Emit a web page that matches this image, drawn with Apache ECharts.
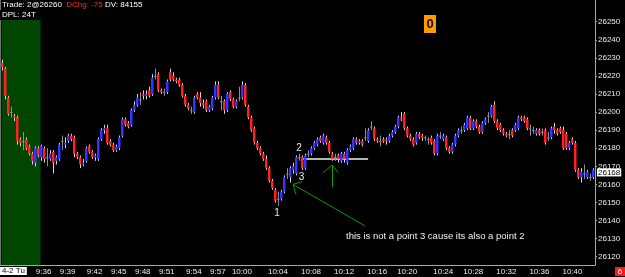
<!DOCTYPE html>
<html><head><meta charset="utf-8">
<script src="https://cdn.jsdelivr.net/npm/echarts@6/dist/echarts.min.js"></script>
<style>html,body{margin:0;padding:0;background:#000;}#c{width:625px;height:277px;}</style>
</head><body><div id="c"></div>
<script>
const opens = [26227,26224,26208,26200,26198,26197,26185,26184,26185,26181,
26177,26172,26180,26175,26180,26175,26174,26178,26173,26174,
26184,26182,26184,26187,26186,26177,26175,26171,26173,26181,
26178,26175,26174,26185,26190,26191,26184,26182,26179,26180,
26187,26196,26194,26193,26201,26204,26207,26210,26209,26212,
26210,26220,26221,26212,26211,26211,26222,26220,26218,26218,
26215,26209,26204,26201,26200,26210,26208,26205,26206,26201,
26202,26208,26215,26206,26206,26201,26211,26207,26203,26208,
26208,26215,26203,26197,26191,26183,26180,26177,26174,26169,
26162,26157,26152,26152,26156,26166,26164,26168,26166,26175,
26175,26169,26177,26177,26180,26182,26186,26183,26186,26183,
26177,26175,26176,26173,26177,26172,26179,26180,26185,26183,
26184,26186,26184,26192,26191,26185,26184,26185,26185,26184,
26187,26189,26192,26197,26199,26191,26187,26185,26183,26188,
26187,26186,26185,26186,26184,26177,26187,26185,26186,26180,
26178,26182,26187,26190,26190,26191,26197,26191,26195,26192,
26189,26194,26198,26198,26204,26195,26193,26190,26188,26188,
26190,26190,26191,26197,26197,26196,26191,26190,26188,26190,
26189,26190,26186,26186,26192,26190,26191,26190,26188,26180,
26185,26183,26168,26164,26166,26164,26164,26164];
const closes = [26225,26209,26199,26200,26197,26184,26183,26184,26180,26177,
26173,26180,26176,26181,26174,26175,26177,26172,26175,26182,
26184,26183,26187,26185,26177,26175,26171,26172,26180,26178,
26175,26176,26185,26190,26191,26183,26182,26179,26181,26186,
26196,26193,26192,26201,26204,26208,26207,26209,26210,26209,
26219,26220,26212,26211,26211,26217,26218,26218,26217,26215,
26209,26204,26202,26201,26208,26208,26205,26204,26201,26203,
26208,26215,26208,26206,26201,26210,26207,26203,26206,26208,
26215,26204,26197,26190,26183,26180,26177,26174,26169,26162,
26158,26151,26152,26156,26164,26166,26169,26170,26175,26175,
26169,26176,26177,26180,26183,26185,26184,26187,26183,26178,
26174,26175,26174,26177,26174,26179,26181,26185,26183,26184,
26182,26186,26190,26192,26185,26184,26184,26184,26184,26187,
26189,26192,26197,26196,26191,26187,26185,26182,26188,26186,
26186,26186,26185,26183,26177,26187,26187,26187,26180,26178,
26182,26187,26190,26190,26193,26197,26191,26195,26192,26189,
26194,26196,26198,26203,26195,26191,26190,26188,26187,26188,
26187,26193,26197,26196,26195,26191,26191,26190,26190,26188,
26189,26183,26186,26191,26190,26188,26189,26180,26180,26183,
26183,26168,26164,26167,26166,26167,26164,26168];
const lows = [26223,26207,26198,26197,26195,26182,26181,26179,26179,26176,
26171,26170,26175,26173,26172,26170,26173,26166,26171,26173,
26179,26180,26183,26184,26175,26174,26169,26170,26172,26177,
26174,26173,26173,26184,26188,26182,26181,26178,26178,26179,
26186,26192,26191,26192,26200,26203,26204,26207,26207,26208,
26209,26218,26211,26210,26209,26210,26217,26217,26216,26214,
26208,26203,26201,26199,26199,26207,26203,26202,26200,26200,
26201,26207,26207,26201,26199,26200,26206,26202,26202,26206,
26207,26203,26196,26189,26182,26179,26176,26173,26168,26161,
26157,26150,26148,26151,26155,26163,26161,26166,26165,26173,
26168,26168,26175,26176,26179,26181,26183,26182,26182,26177,
26173,26173,26172,26172,26172,26171,26178,26179,26182,26182,
26181,26184,26183,26190,26184,26183,26181,26183,26182,26183,
26186,26188,26191,26195,26190,26186,26184,26181,26182,26185,
26184,26184,26182,26182,26176,26176,26185,26184,26179,26177,
26177,26181,26186,26188,26189,26190,26190,26190,26191,26188,
26188,26193,26194,26197,26194,26190,26189,26187,26186,26185,
26186,26189,26190,26195,26194,26190,26187,26188,26187,26187,
26187,26182,26184,26185,26188,26187,26188,26179,26179,26179,
26182,26167,26163,26161,26163,26163,26162,26163];
const highs = [26229,26225,26209,26203,26199,26198,26186,26189,26186,26182,
26178,26181,26181,26182,26181,26180,26179,26179,26176,26183,
26187,26186,26188,26188,26187,26178,26176,26174,26181,26182,
26179,26177,26186,26191,26193,26193,26185,26183,26182,26187,
26197,26197,26195,26202,26206,26210,26211,26212,26212,26214,
26221,26224,26222,26213,26213,26218,26224,26222,26219,26219,
26216,26210,26205,26203,26209,26211,26211,26207,26207,26204,
26209,26217,26217,26209,26207,26211,26212,26208,26207,26214,
26217,26216,26204,26198,26192,26184,26181,26178,26176,26170,
26163,26158,26156,26157,26165,26169,26170,26172,26176,26177,
26176,26177,26179,26181,26184,26186,26187,26188,26187,26184,
26178,26177,26177,26178,26178,26180,26182,26186,26186,26185,
26185,26191,26191,26195,26192,26186,26187,26186,26186,26188,
26190,26193,26198,26200,26200,26192,26188,26186,26189,26189,
26188,26187,26186,26187,26185,26188,26189,26188,26187,26181,
26183,26188,26191,26192,26194,26198,26198,26196,26196,26193,
26195,26197,26200,26204,26206,26196,26194,26191,26189,26190,
26191,26194,26198,26198,26198,26197,26193,26192,26191,26191,
26191,26191,26189,26192,26194,26191,26192,26192,26189,26184,
26186,26184,26169,26169,26171,26168,26166,26169];

const timeLabels = ['9:36','9:39','9:42','9:45','9:48','9:51','9:54','9:57','10:00','10:04','10:08','10:12','10:16','10:20','10:24','10:28','10:32','10:36','10:40'];
const timeLabelBars = [14,22,31,39,47,55,64,72,80,92,103,114,125,135,147,157,168,179,190];
const priceTicks = [26120,26130,26140,26150,26160,26170,26180,26190,26200,26210,26220,26230,26240,26250];
const lastPrice = 26168;
const sessionBars = [0, 13];

const FONT = 'Liberation Sans, Arial, sans-serif';
const Y_MIN = 26115.4, Y_MAX = 26262;
const UP = '#3434ff', DOWN = '#ff2222', FLAT = '#8e8e8e', WICK = '#d4d4d4';

const categories = opens.map((_, i) => {
  const k = timeLabelBars.indexOf(i);
  return k >= 0 ? timeLabels[k] : '';
});
const candleData = opens.map((o, i) => [i, o, closes[i], lows[i], highs[i]]);

function renderCandle(params, api) {
  const i = api.value(0);
  const o = api.value(1), c = api.value(2), lo = api.value(3), hi = api.value(4);
  const pO = api.coord([i, o]), pC = api.coord([i, c]);
  const pL = api.coord([i, lo]), pH = api.coord([i, hi]);
  const xi = Math.round(pO[0]);
  const fill = c > o ? UP : (c < o ? DOWN : FLAT);
  const top = Math.min(pO[1], pC[1]);
  const h = Math.max(Math.abs(pO[1] - pC[1]), 1);
  return {
    type: 'group',
    children: [
      { type: 'line', shape: { x1: xi + 0.5, y1: pH[1], x2: xi + 0.5, y2: pL[1] },
        style: { stroke: c === o ? FLAT : WICK, lineWidth: 1 } },
      { type: 'rect', shape: { x: xi - 1, y: top, width: 2.5, height: h },
        style: { fill: fill } }
    ]
  };
}

const chart = echarts.init(document.getElementById('c'), null, { renderer: 'canvas', width: 625, height: 277 });

const GREEN = '#0a9a0a';
const seg = (a, b, color, width) => [
  { coord: a, lineStyle: { color: color, width: width, type: 'solid' } },
  { coord: b }
];

chart.setOption({
  backgroundColor: '#000',
  animation: false,
  grid: { left: 0, right: 30, top: 0, bottom: 12, containLabel: false, outerBoundsMode: 'none' },
  xAxis: {
    type: 'category', data: categories, boundaryGap: true,
    axisLine: { show: true, onZero: false, lineStyle: { color: '#a8a8a8', width: 1 } },
    axisTick: { show: false },
    axisLabel: { interval: 0, color: '#ececec', fontSize: 8, fontFamily: FONT, margin: 3, hideOverlap: false },
    splitLine: { show: false }
  },
  yAxis: [{
    type: 'value', position: 'right', min: Y_MIN, max: Y_MAX,
    axisLine: { show: true, lineStyle: { color: '#a8a8a8', width: 1 } },
    axisTick: { show: true, length: 2, customValues: priceTicks, lineStyle: { color: '#a8a8a8' } },
    axisLabel: { customValues: priceTicks, formatter: v => String(Math.round(v)),
                 color: '#ececec', fontSize: 8, fontFamily: FONT, margin: 3 },
    splitLine: { show: false }
  }, {
    type: 'value', position: 'left', min: Y_MIN, max: Y_MAX,
    axisLine: { show: true, lineStyle: { color: '#707070', width: 1 } },
    axisTick: { show: false }, axisLabel: { show: false }, splitLine: { show: false }
  }],
  series: [
    {
      type: 'line', data: closes, yAxisIndex: 0, z: 0, silent: true,
      showSymbol: false, symbol: 'none', lineStyle: { opacity: 0 },
      markArea: {
        silent: true,
        itemStyle: { color: '#004600' },
        data: [[{ xAxis: sessionBars[0], yAxis: Y_MIN }, { xAxis: sessionBars[1], yAxis: 26256.5 }]]
      }
    },
    {
      type: 'custom', z: 5, renderItem: renderCandle, data: candleData,
      encode: { x: 0, y: [1, 2, 3, 4] }, silent: true
    },
    {
      type: 'line', data: closes, yAxisIndex: 0, z: 10, silent: true,
      showSymbol: false, symbol: 'none', lineStyle: { opacity: 0 },
      markLine: {
        silent: true, symbol: ['none', 'none'], animation: false,
        label: { show: false },
        emphasis: { disabled: true },
        data: [
          seg([100, 26174.3], [122, 26174.3], '#b4b4b4', 2),
          seg([97, 26160], [121, 26137], GREEN, 1),
          seg([97, 26160], [98, 26154.5], GREEN, 1),
          seg([97, 26160], [100, 26161.5], GREEN, 1),
          seg([110, 26158.5], [110, 26170.7], GREEN, 1),
          seg([110, 26170.7], [107, 26166.5], GREEN, 1),
          seg([110, 26170.7], [112, 26166.5], GREEN, 1)
        ]
      }
    }
  ]
});

const priceY = chart.convertToPixel({ yAxisIndex: 0 }, lastPrice);

chart.setOption({
  graphic: [
    { type: 'text', left: 2, top: 1, z: 20, style: {
        text: '{w|Trade: 2@26260 } {r|DChg: -75} {w|DV: 84155}',
        font: '8px ' + FONT,
        rich: { w: { fill: '#ffffff', fontSize: 8, fontFamily: FONT },
                r: { fill: '#ff2a2a', fontSize: 8, fontFamily: FONT } } } },
    { type: 'text', left: 0, top: 10, z: 20, style: {
        text: 'DPL: 24T', fill: '#ffffff', font: '8px ' + FONT,
        backgroundColor: '#000', padding: [1, 5, 1, 2] } },
    { type: 'rect', shape: { x: 424, y: 15, width: 12, height: 18 }, z: 20, style: { fill: '#ff9a00' } },
    { type: 'text', x: 430, y: 24.5, z: 21, style: {
        text: '0', fill: '#111', font: 'bold 13px ' + FONT, align: 'center', verticalAlign: 'middle' } },
    { type: 'text', x: 277, y: 213.5, z: 20, style: { text: '1', fill: '#e8e8e8', font: '10px ' + FONT, align: 'center', verticalAlign: 'middle' } },
    { type: 'text', x: 299, y: 148.7, z: 20, style: { text: '2', fill: '#e8e8e8', font: '10px ' + FONT, align: 'center', verticalAlign: 'middle' } },
    { type: 'text', x: 301.5, y: 177.5, z: 20, style: { text: '3', fill: '#e8e8e8', font: '10px ' + FONT, align: 'center', verticalAlign: 'middle' } },
    { type: 'text', x: 346, y: 236.7, z: 20, style: {
        text: 'this is not a point 3 cause its also a point 2', fill: '#f0f0f0',
        font: '9.5px ' + FONT, align: 'left', verticalAlign: 'middle' } },
    { type: 'text', x: 597, y: priceY + 2.5, z: 22, style: {
        text: String(lastPrice), fill: '#000', font: '8px ' + FONT, backgroundColor: '#ffffff',
        padding: [0, 1, 0, 1], lineHeight: 8, align: 'left', verticalAlign: 'middle' } },
    { type: 'text', left: 0, top: 267, z: 20, style: {
        text: '4-2 Tu', fill: '#000', font: '8px ' + FONT, backgroundColor: '#ffffff', padding: [0, 2, 0, 2], lineHeight: 8 } },
    { type: 'rect', shape: { x: 615, y: 267, width: 10, height: 9 }, z: 20, style: { fill: '#ff1a1a' } },
    { type: 'text', x: 620, y: 271.5, z: 21, style: {
        text: '6', fill: '#ffffff', font: '8px ' + FONT, align: 'center', verticalAlign: 'middle' } }
  ]
});
</script>
</body></html>
